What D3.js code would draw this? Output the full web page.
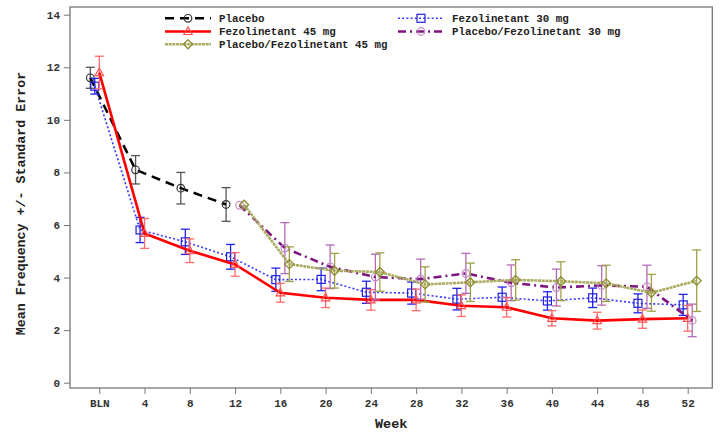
<!DOCTYPE html>
<html>
<head>
<meta charset="utf-8">
<script src="https://cdn.jsdelivr.net/npm/d3@7"></script>
<style>
  body { margin: 0; background: #fff; }
  svg { display: block; font-family: "Liberation Mono", "DejaVu Sans Mono", monospace; font-weight: bold; }
</style>
</head>
<body>
<svg id="chart" width="720" height="436"></svg>
<script>
// weeks (0 = baseline, shown as BLN)
const weeks = [0, 4, 8, 12, 16, 20, 24, 28, 32, 36, 40, 44, 48, 52];
const crossWeeks = [12, 16, 20, 24, 28, 32, 36, 40, 44, 48, 52];
const placeboWeeks = [0, 4, 8, 12];
const yTicks = [0, 2, 4, 6, 8, 10, 12, 14];

const placeboMean = [11.6, 8.1, 7.4, 6.78];
const placeboSE = [0.4, 0.54, 0.6, 0.64];

const f30Mean = [11.28, 5.81, 5.36, 4.79, 3.92, 3.93, 3.44, 3.41, 3.18, 3.25, 3.11, 3.23, 3.02, 2.96];
const f30SE = [0.3, 0.48, 0.48, 0.47, 0.44, 0.43, 0.42, 0.42, 0.41, 0.39, 0.35, 0.37, 0.36, 0.4];

const f45Mean = [11.8, 5.68, 5.02, 4.5, 3.42, 3.23, 3.15, 3.15, 2.93, 2.87, 2.45, 2.36, 2.42, 2.45];
const f45SE = [0.62, 0.57, 0.45, 0.45, 0.36, 0.37, 0.39, 0.41, 0.41, 0.37, 0.29, 0.32, 0.35, 0.49];

const pf30Mean = [6.75, 5.12, 4.41, 4.02, 3.94, 4.16, 3.8, 3.62, 3.7, 3.65, 2.37];
const pf30SE = [0, 0.97, 0.83, 0.87, 0.76, 0.76, 0.68, 0.7, 0.75, 0.82, 0.62];

const pf45Mean = [6.77, 4.51, 4.26, 4.21, 3.74, 3.82, 3.91, 3.86, 3.78, 3.42, 3.88];
const pf45SE = [0, 0.66, 0.66, 0.73, 0.67, 0.73, 0.77, 0.74, 0.69, 0.7, 1.17];

const series = [
  { name: "Placebo", weeks: placeboWeeks, mean: placeboMean, se: placeboSE, off: -9,
    color: "#000000", bar: "#555555", width: 2.5, dash: "9,6", marker: "circle", mcolor: "#333333" },
  { name: "Fezolinetant 30 mg", weeks: weeks, mean: f30Mean, se: f30SE, off: -4.5,
    color: "#3a3aff", bar: "#2222ee", width: 1.6, dash: "2,2.2", marker: "square", mcolor: "#1f1fe0" },
  { name: "Fezolinetant 45 mg", weeks: weeks, mean: f45Mean, se: f45SE, off: 0,
    color: "#ff0000", bar: "#ff6a6a", width: 2.6, dash: null, marker: "triangle", mcolor: "#ff5050" },
  { name: "Placebo/Fezolinetant 30 mg", weeks: crossWeeks, mean: pf30Mean, se: pf30SE, off: 4.5,
    color: "#7d1680", bar: "#b46ab8", width: 2.6, dash: "8,4,2,4", marker: "circle", mcolor: "#c08ac4" },
  { name: "Placebo/Fezolinetant 45 mg", weeks: crossWeeks, mean: pf45Mean, se: pf45SE, off: 9,
    color: "#abab62", bar: "#a0a048", width: 2.6, dash: "3,0.7", marker: "diamond", mcolor: "#8c8c30" },
];

const svg = d3.select("#chart");
const x = d3.scaleLinear().domain([0, 52]).range([99.3, 687.7]);
const y = d3.scaleLinear().domain([0, 14]).range([382.7, 14.7]);
const frame = { left: 70, top: 7, right: 712.3, bottom: 388 };

// frame
svg.append("rect")
  .attr("x", frame.left).attr("y", frame.top)
  .attr("width", frame.right - frame.left).attr("height", frame.bottom - frame.top)
  .attr("fill", "none").attr("stroke", "#777").attr("stroke-width", 1.3);

// y axis
const yAxis = svg.append("g").attr("transform", `translate(${frame.left},0)`)
  .call(d3.axisLeft(y).tickValues(yTicks).tickSize(6).tickPadding(4));
yAxis.select(".domain").remove();
yAxis.selectAll("line").attr("stroke", "#777");
yAxis.selectAll("text").attr("font-size", 11).attr("fill", "#333")
  .attr("font-family", "Liberation Mono, monospace").attr("font-weight", "bold");

// x axis
const xAxis = svg.append("g").attr("transform", `translate(0,${frame.bottom})`)
  .call(d3.axisBottom(x).tickValues(weeks).tickSize(6).tickPadding(5)
    .tickFormat(d => d === 0 ? "BLN" : d));
xAxis.select(".domain").remove();
xAxis.selectAll("line").attr("stroke", "#777");
xAxis.selectAll("text").attr("font-size", 11).attr("fill", "#333")
  .attr("font-family", "Liberation Mono, monospace").attr("font-weight", "bold");

// axis titles
svg.append("text")
  .attr("x", (frame.left + frame.right) / 2).attr("y", 428)
  .attr("text-anchor", "middle").attr("font-size", 13.5).attr("fill", "#222")
  .text("Week");
svg.append("text")
  .attr("transform", `translate(25,${(frame.top + frame.bottom) / 2 + 6}) rotate(-90)`)
  .attr("text-anchor", "middle").attr("font-size", 13.3).attr("fill", "#222")
  .text("Mean Frequency +/- Standard Error");

function drawMarker(g, type, cx, cy, col) {
  if (type === "circle") {
    g.append("circle").attr("cx", cx).attr("cy", cy).attr("r", 3.8)
      .attr("fill", "none").attr("stroke", col).attr("stroke-width", 1.2);
  } else if (type === "square") {
    g.append("rect").attr("x", cx - 4).attr("y", cy - 4).attr("width", 8).attr("height", 8)
      .attr("fill", "none").attr("stroke", col).attr("stroke-width", 1.2);
  } else if (type === "triangle") {
    g.append("path").attr("d", `M${cx},${cy - 4.5}L${cx + 4.2},${cy + 3}L${cx - 4.2},${cy + 3}Z`)
      .attr("fill", "none").attr("stroke", col).attr("stroke-width", 1.2);
  } else if (type === "diamond") {
    g.append("path").attr("d", `M${cx},${cy - 4.5}L${cx + 4.5},${cy}L${cx},${cy + 4.5}L${cx - 4.5},${cy}Z`)
      .attr("fill", "none").attr("stroke", col).attr("stroke-width", 1.3);
  }
}

const plot = svg.append("g");

series.forEach(s => {
  const pts = s.weeks.map((w, i) => ({ px: x(w) + s.off, m: s.mean[i], se: s.se[i] }));
  const g = plot.append("g");
  // error bars
  pts.forEach(p => {
    if (!p.se) return;
    const y1 = y(p.m + p.se), y2 = y(p.m - p.se);
    g.append("line").attr("x1", p.px).attr("x2", p.px).attr("y1", y1).attr("y2", y2)
      .attr("stroke", s.bar).attr("stroke-width", 1.3);
    [y1, y2].forEach(yy => g.append("line")
      .attr("x1", p.px - 4.5).attr("x2", p.px + 4.5).attr("y1", yy).attr("y2", yy)
      .attr("stroke", s.bar).attr("stroke-width", 1.3));
  });
  // line
  const line = d3.line().x(p => p.px).y(p => y(p.m));
  g.append("path").datum(pts).attr("d", line)
    .attr("fill", "none").attr("stroke", s.color).attr("stroke-width", s.width)
    .attr("stroke-dasharray", s.dash);
  pts.forEach(p => drawMarker(g, s.marker, p.px, y(p.m), s.mcolor));
});

// legend
const legendItems = [
  { s: series[0], x: 165, y: 18.3 },
  { s: series[2], x: 165, y: 31.5 },
  { s: series[4], x: 165, y: 44.3 },
  { s: series[1], x: 398, y: 18.3 },
  { s: series[3], x: 398, y: 31.5 },
];
const legend = svg.append("g");
legendItems.forEach(it => {
  const s = it.s;
  legend.append("line").attr("x1", it.x).attr("x2", it.x + 46).attr("y1", it.y).attr("y2", it.y)
    .attr("stroke", s.color).attr("stroke-width", s.width).attr("stroke-dasharray", s.dash);
  drawMarker(legend, s.marker, it.x + 23, it.y, s.mcolor);
  legend.append("text").attr("x", it.x + 54).attr("y", it.y + 3.8)
    .attr("font-size", 10.8).attr("fill", "#222").text(s.name);
});
</script>
</body>
</html>
